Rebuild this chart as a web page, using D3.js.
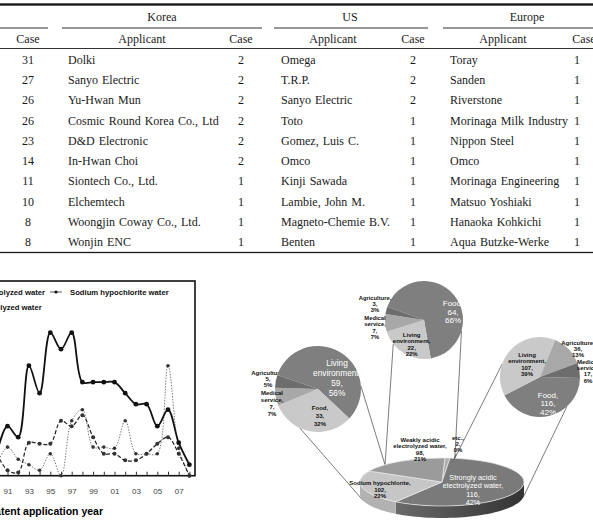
<!DOCTYPE html>
<html>
<head>
<meta charset="utf-8">
<script src="https://cdn.jsdelivr.net/npm/d3@7"></script>
<style>
  body { margin: 0; background: #fff; }
  svg { display: block; }
</style>
</head>
<body>
<svg id="chart" width="593" height="521"></svg>
<script>
// ---------------- table data ----------------
const totalCases = [31, 27, 26, 26, 23, 14, 11, 10, 8, 8];
const koreaApplicants = ["Dolki", "Sanyo Electric", "Yu-Hwan Mun", "Cosmic Round Korea Co., Ltd",
  "D&D Electronic", "In-Hwan Choi", "Siontech Co., Ltd.", "Elchemtech",
  "Woongjin Coway Co., Ltd.", "Wonjin ENC"];
const koreaCases = [2, 2, 2, 2, 2, 2, 1, 1, 1, 1];
const usApplicants = ["Omega", "T.R.P.", "Sanyo Electric", "Toto", "Gomez, Luis C.", "Omco",
  "Kinji Sawada", "Lambie, John M.", "Magneto-Chemie B.V.", "Benten"];
const usCases = [2, 2, 2, 1, 1, 1, 1, 1, 1, 1];
const euApplicants = ["Toray", "Sanden", "Riverstone", "Morinaga Milk Industry", "Nippon Steel",
  "Omco", "Morinaga Engineering", "Matsuo Yoshiaki", "Hanaoka Kohkichi", "Aqua Butzke-Werke"];
const euCases = [1, 1, 1, 1, 1, 1, 1, 1, 1, 1];

// ---------------- line chart data ----------------
const years = d3.range(1990, 2009);
const strongAcidic = [2, 4.5, 3.5, 10, 7.5, 13, 11.5, 13, 8.5, 8.5, 8.5, 8.5, 7.5, 6.5, 6.5, 4.5, 6, 3, 1];
const sodiumHypo = [2, 0.5, 0.3, 3, 2.9, 2.9, 5, 4.5, 5.5, 3.5, 2, 2, 1.4, 1.4, 2, 2.9, 3.5, 2, 0];
const weakAcidic = [1, 2.6, 1.5, 1, 0.5, 2, 0, 5, 6, 2.6, 2.6, 2.5, 5, 2, 2, 2, 10, 2.5, 0];

// ---------------- pie data ----------------
const mainNames = ["etc.", "Strongly acidic electrolyzed water", "Sodium hypochlorite", "Weakly acidic electrolyzed water"];
const mainCounts = [2, 116, 102, 98];
const mainPercents = [0, 42, 22, 21];
const mainShares = [1, 58, 23, 18];   // slice sizes as drawn in the figure

const leftNames = ["Living environment", "Food", "Medical service", "Agriculture"];
const leftCounts = [59, 33, 7, 5];
const leftPercents = [56, 32, 7, 5];

const topNames = ["Food", "Living environment", "Medical service", "Agriculture"];
const topCounts = [64, 22, 7, 3];
const topPercents = [66, 22, 7, 3];

const rightNames = ["Food", "Living environment", "Agriculture", "Medical service"];
const rightCounts = [116, 107, 36, 17];
const rightPercents = [42, 39, 13, 6];

const svg = d3.select("#chart");
const deg = Math.PI / 180;

// =============== TABLE ===============
const table = svg.append("g")
  .attr("font-family", "'Liberation Serif', 'Times New Roman', serif")
  .attr("font-size", "12px")
  .attr("fill", "#1a1a1a")
  .style("word-spacing", "1px");

const rowY = d3.scalePoint().domain(d3.range(10)).range([59.5, 242]);

// horizontal rules
function hline(x1, x2, yc, w) {
  svg.append("rect").attr("x", x1).attr("width", x2 - x1)
    .attr("y", yc - w / 2).attr("height", w).attr("fill", "#1a1a1a");
}
hline(0, 593, 4.5, 2.4);
hline(0, 48, 28, 0.9);
hline(62, 262, 28, 0.9);
hline(274, 428, 28, 0.9);
hline(443, 593, 28, 0.9);
hline(0, 593, 48.5, 0.9);
hline(0, 593, 252.5, 1.3);

const groupHeads = [["Korea", 162], ["US", 350], ["Europe", 527]];
table.selectAll(".gh").data(groupHeads).join("text")
  .attr("x", d => d[1]).attr("y", 17).attr("dy", "0.35em")
  .attr("text-anchor", "middle").text(d => d[0]);

const subHeads = [["Case", 28], ["Applicant", 142], ["Case", 241], ["Applicant", 333],
  ["Case", 413], ["Applicant", 503], ["Case", 584]];
table.selectAll(".sh").data(subHeads).join("text")
  .attr("x", d => d[1]).attr("y", 38.5).attr("dy", "0.35em")
  .attr("text-anchor", "middle").text(d => d[0]);

function column(values, x, anchor) {
  table.append("g").selectAll("text").data(values).join("text")
    .attr("x", x).attr("y", (d, i) => rowY(i)).attr("dy", "0.35em")
    .attr("text-anchor", anchor).text(d => d);
}
column(totalCases, 28, "middle");
column(koreaApplicants, 68, "start");
column(koreaCases, 241, "middle");
column(usApplicants, 281, "start");
column(usCases, 413, "middle");
column(euApplicants, 450, "start");
column(euCases, 577, "middle");

// =============== LINE CHART ===============
const lc = svg.append("g").attr("font-family", "'Liberation Sans', Arial, sans-serif");
const x = d3.scaleLinear().domain([1991, 2007]).range([7.5, 178.7]);
const y = d3.scaleLinear().domain([0, 13]).range([475.7, 332.7]);

lc.append("rect").attr("x", -20).attr("y", 281).attr("width", 215).attr("height", 194.7)
  .attr("fill", "none").attr("stroke", "#111").attr("stroke-width", 1.6);

// minor ticks every year, pointing up
lc.append("g").attr("transform", "translate(0,475.7)")
  .call(d3.axisBottom(x).tickValues(years).tickSize(-4).tickFormat(""))
  .call(g => g.select(".domain").remove())
  .call(g => g.selectAll("line").attr("stroke", "#333"));

lc.append("g").attr("transform", "translate(0,475.7)")
  .call(d3.axisBottom(x).tickValues(years.filter(v => v % 2 === 1)).tickSize(0).tickPadding(13)
    .tickFormat(v => String(v).slice(2)))
  .call(g => g.select(".domain").remove())
  .call(g => g.selectAll("text").attr("font-size", "8px").attr("fill", "#444")
    .attr("font-family", "'Liberation Sans', Arial, sans-serif"));

lc.append("text").attr("x", 103).attr("y", 511).attr("dy", "0.35em")
  .attr("text-anchor", "end").attr("font-size", "10.5px").attr("font-weight", "bold")
  .text("Patent application year");

const seriesList = [
  { name: "Strongly acidic electrolyzed water", values: strongAcidic, color: "#111", width: 1.8, dash: null, r: 2.4 },
  { name: "Sodium hypochlorite water", values: sodiumHypo, color: "#222", width: 1.2, dash: "4,2", r: 2 },
  { name: "Weakly acidic electrolyzed water", values: weakAcidic, color: "#777", width: 1, dash: "1.4,1.4", r: 1.8 }
];

const line = d3.line().x((d, i) => x(years[i])).y(d => y(d)).curve(d3.curveCatmullRom.alpha(0.5));

seriesList.slice().reverse().forEach(s => {
  lc.append("path").attr("d", line(s.values)).attr("fill", "none")
    .attr("stroke", s.color).attr("stroke-width", s.width)
    .attr("stroke-dasharray", s.dash);
  lc.append("g").selectAll("circle").data(s.values).join("circle")
    .attr("cx", (d, i) => x(years[i])).attr("cy", d => y(d)).attr("r", s.r)
    .attr("fill", s.dash ? "#333" : "#111");
});

// legend
const lg = lc.append("g").attr("font-size", "7.7px").attr("font-weight", "bold").attr("fill", "#111");
lg.append("text").attr("x", 45).attr("y", 292).attr("dy", "0.35em").attr("text-anchor", "end").text(seriesList[0].name);
lg.append("line").attr("x1", 50).attr("x2", 62).attr("y1", 292).attr("y2", 292).attr("stroke", "#333").attr("stroke-width", 0.8);
lg.append("circle").attr("cx", 56).attr("cy", 292).attr("r", 1.6).attr("fill", "#111");
lg.append("text").attr("x", 70).attr("y", 292).attr("dy", "0.35em").text(seriesList[1].name);
lg.append("text").attr("x", 41.7).attr("y", 307).attr("dy", "0.35em").attr("text-anchor", "end").text(seriesList[2].name);

// =============== PIES ===============
const pc = svg.append("g").attr("font-family", "'Liberation Sans', Arial, sans-serif");
const smallColors = ["#7f7f7f", "#c9c9c9", "#a8a8a8", "#6d6d6d"];

const main = { cx: 442, cy: 482, rx: 82, ry: 24, depth: 12 };
const leftPie = { cx: 318, cy: 389, r: 43, start: -71 };
const topPie = { cx: 424, cy: 320, r: 39, start: -70 };
const rightPie = { cx: 540, cy: 377, r: 40, start: 91.5 };

function ellPt(a, dz) {
  return [main.cx + main.rx * Math.sin(a), main.cy - main.ry * Math.cos(a) + (dz || 0)];
}
function circPt(p, aDeg) {
  const a = aDeg * deg;
  return [p.cx + p.r * Math.sin(a), p.cy - p.r * Math.cos(a)];
}

// connector lines (small pie rim angle -> main pie rim angle, true = bottom rim)
const connectors = [
  [leftPie, 205, 254, true], [leftPie, 86, 316, false],
  [topPie, 232, 316, false], [topPie, 106, 9, false],
  [rightPie, 289, 9, false], [rightPie, 138, 99, true]
];
pc.append("g").selectAll("line").data(connectors).join("line")
  .attr("x1", d => circPt(d[0], d[1])[0]).attr("y1", d => circPt(d[0], d[1])[1])
  .attr("x2", d => ellPt(d[2] * deg, d[3] ? main.depth : 0)[0])
  .attr("y2", d => ellPt(d[2] * deg, d[3] ? main.depth : 0)[1])
  .attr("stroke", "#444").attr("stroke-width", 0.7);

// outside labels first, so pies overlap them
function label(xp, yp, lines, size, color, weight, lh) {
  const t = pc.append("text").attr("x", xp).attr("y", yp).attr("text-anchor", "middle")
    .attr("font-size", size + "px").attr("fill", color).attr("font-weight", weight);
  lines.forEach((l, i) => t.append("tspan").attr("x", xp).attr("dy", i === 0 ? "0.35em" : lh).text(l));
}
function sliceLines(name, count, pct) {
  const words = name.split(" ");
  const head = words.length > 1 ? [words.slice(0, -1).join(" "), words[words.length - 1] + ","] : [name + ","];
  return head.concat([count + ",", pct + "%"]);
}

// small pies
function drawSmall(p, counts) {
  const pie = d3.pie().sort(null).startAngle(p.start * deg).endAngle(p.start * deg + 2 * Math.PI);
  const arc = d3.arc().innerRadius(0).outerRadius(p.r);
  pc.append("g").attr("transform", `translate(${p.cx},${p.cy})`)
    .selectAll("path").data(pie(counts)).join("path")
    .attr("d", arc).attr("fill", (d, i) => smallColors[i]);
}

// left pie
label(268, 372.7, [leftNames[3] + ",", leftCounts[3] + ",", leftPercents[3] + "%"], 6, "#111", "bold", "1.05em");
drawSmall(leftPie, leftCounts);
label(272, 392.7, sliceLines(leftNames[2], leftCounts[2], leftPercents[2]), 6, "#111", "bold", "1.15em");
label(337, 363, sliceLines(leftNames[0], leftCounts[0], leftPercents[0]), 8.3, "#fff", "normal", "1.2em");
label(320, 408, sliceLines(leftNames[1], leftCounts[1], leftPercents[1]), 6, "#111", "bold", "1.3em");

// top pie
drawSmall(topPie, topCounts);
label(375, 298, [topNames[3] + ",", topCounts[3] + ",", topPercents[3] + "%"], 5.8, "#111", "bold", "1.05em");
label(375, 317.5, sliceLines(topNames[2], topCounts[2], topPercents[2]), 5.8, "#111", "bold", "1.12em");
label(453, 303.3, sliceLines(topNames[0], topCounts[0], topPercents[0]), 8, "#fff", "normal", "1.05em");
label(411.7, 335, sliceLines(topNames[1], topCounts[1], topPercents[1]), 6, "#111", "bold", "1.05em");

// right pie
drawSmall(rightPie, rightCounts);
label(527, 355, sliceLines(rightNames[1], rightCounts[1], rightPercents[1]), 6, "#111", "bold", "1.05em");
label(548, 395, sliceLines(rightNames[0], rightCounts[0], rightPercents[0]), 8, "#fff", "normal", "1.05em");
label(578, 343.3, [rightNames[2] + ",", rightCounts[2] + ",", rightPercents[2] + "%"], 6, "#111", "bold", "1.0em");
label(588, 361.7, sliceLines(rightNames[3], rightCounts[3], rightPercents[3]), 6, "#111", "bold", "1.05em");

// main 3D pie
const defs = svg.append("defs");
const grad = defs.append("linearGradient").attr("id", "darkSide").attr("x1", "0").attr("x2", "1").attr("y1", "0").attr("y2", "0");
grad.append("stop").attr("offset", "0").attr("stop-color", "#6a6a6a");
grad.append("stop").attr("offset", "1").attr("stop-color", "#333");

const mainTop = ["#b0b0b0", "#7a7a7a", "#c6c6c6", "#9b9b9b"];
const mainSide = ["#909090", "url(#darkSide)", "#b2b2b2", "#808080"];
const mainPie = d3.pie().sort(null).startAngle(2 * deg).endAngle(2 * deg + 2 * Math.PI)(mainShares);

const sides = pc.append("g");
mainPie.forEach((s, i) => {
  const a0 = Math.max(s.startAngle, Math.PI / 2), a1 = Math.min(s.endAngle, 1.5 * Math.PI);
  if (a1 <= a0) return;
  const steps = d3.range(a0, a1, (a1 - a0) / 40).concat([a1]);
  const pts = steps.map(a => ellPt(a, 0)).concat(steps.slice().reverse().map(a => ellPt(a, main.depth)));
  sides.append("path").attr("d", d3.line()(pts) + "Z").attr("fill", mainSide[i]);
});
const mainArc = d3.arc().innerRadius(0).outerRadius(main.rx);
pc.append("g").attr("transform", `translate(${main.cx},${main.cy}) scale(1,${main.ry / main.rx})`)
  .selectAll("path").data(mainPie).join("path")
  .attr("d", mainArc).attr("fill", (d, i) => mainTop[i])
  .attr("stroke", "#e8e8e8").attr("stroke-width", 0.7).attr("vector-effect", "non-scaling-stroke");

label(420, 440, ["Weakly acidic", "electrolyzed water,", mainCounts[3] + ",", mainPercents[3] + "%"], 6, "#111", "bold", "1.05em");
label(458, 438.3, [mainNames[0] + ",", mainCounts[0] + ",", mainPercents[0] + "%"], 6, "#111", "bold", "1.0em");
pc.append("line").attr("x1", 456).attr("x2", 454).attr("y1", 454).attr("y2", 460).attr("stroke", "#333").attr("stroke-width", 0.6);
label(380, 483.3, [mainNames[2] + ",", mainCounts[2] + ",", mainPercents[2] + "%"], 6, "#111", "bold", "1.05em");
label(473, 477.3, ["Strongly acidic", "electrolyzed water,", mainCounts[1] + ",", mainPercents[1] + "%"], 7.3, "#fff", "normal", "1.15em");
</script>
</body>
</html>
